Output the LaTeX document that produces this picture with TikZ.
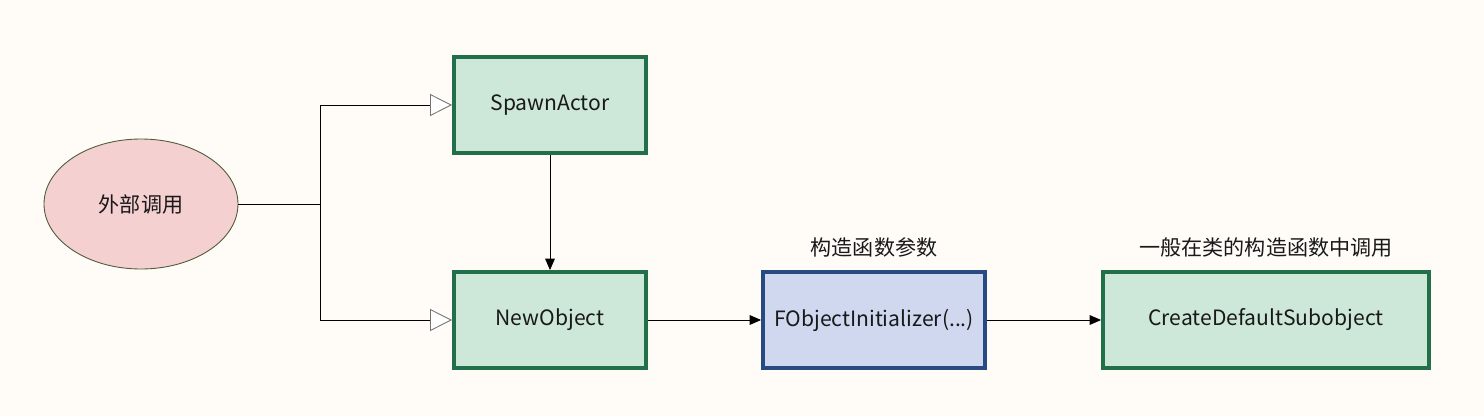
\documentclass[tikz,border=0pt]{standalone}
\usepackage{fontspec}
\setmainfont{Noto Sans CJK SC}
\usetikzlibrary{arrows.meta,shapes.geometric}
\definecolor{bgcol}{HTML}{FFFCF8}
\definecolor{greenfill}{HTML}{CDE8D8}
\definecolor{greenline}{HTML}{22704A}
\definecolor{bluefill}{HTML}{D0D8F0}
\definecolor{blueline}{HTML}{284A82}
\definecolor{pinkfill}{HTML}{F5D0D1}
\definecolor{pinkline}{HTML}{4E5A38}
\begin{document}
\begin{tikzpicture}[x=0.02cm, y=-0.02cm,
	every node/.style = {font=\fontsize{12}{15}\selectfont, text=black!90},
	greenbox/.style = {draw=greenline, fill=greenfill, line width=2.2pt, minimum height=96*0.02cm},
	bluebox/.style = {draw=blueline, fill=bluefill, line width=2.2pt, minimum height=96*0.02cm},
	callout/.style = {ellipse, draw=pinkline, fill=pinkfill, line width=0.5pt, minimum width=194*0.02cm, minimum height=130*0.02cm},
	openarrow/.style = {line width=0.5pt, -{Triangle[open, length=12.5pt, width=12.5pt, color=black!55, fill=white]}},
	filledarrow/.style = {line width=0.5pt, -{Triangle[length=6.5pt, width=5.5pt]}}]
	\fill[bgcol] (0,0) rectangle (1484,416);

	\node[callout] (caller) at (141,204) {外部调用};
	\node[greenbox, minimum width=192*0.02cm] (spawn) at (550,105) {SpawnActor};
	\node[greenbox, minimum width=192*0.02cm] (newobj) at (550,320) {NewObject};
	\node[bluebox, minimum width=222*0.02cm] (init) at (874,320) {FObjectInitializer(...)};
	\node[greenbox, minimum width=326*0.02cm] (subobj) at (1266,320) {CreateDefaultSubobject};

	\node (initlabel) at (874,247) {构造函数参数};
	\node (subobjlabel) at (1266,247) {一般在类的构造函数中调用};

	\coordinate (branch) at (320,204);
	\draw[line width=0.5pt] (caller.east) -- (branch);
	\draw[openarrow] (branch) |- (spawn.west);
	\draw[openarrow] (branch) |- (newobj.west);
	\draw[filledarrow] (spawn.south) -- (newobj.north);
	\draw[filledarrow] (newobj.east) -- (init.west);
	\draw[filledarrow] (init.east) -- (subobj.west);
\end{tikzpicture}
\end{document}
